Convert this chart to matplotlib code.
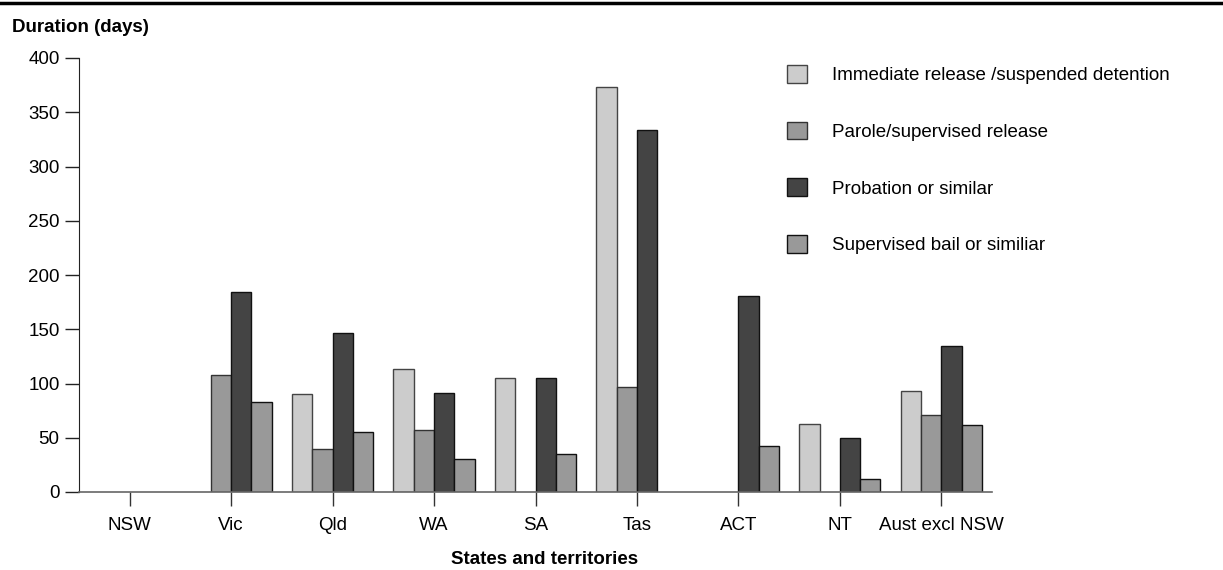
import numpy as np
import matplotlib
matplotlib.use("Agg")
import matplotlib.pyplot as plt
from matplotlib.lines import Line2D

plt.rcParams['font.family'] = ['Liberation Sans', 'DejaVu Sans']

categories = ["NSW", "Vic", "Qld", "WA", "SA", "Tas", "ACT", "NT", "Aust excl NSW"]
series_names = ["Immediate release /suspended detention", "Parole/supervised release",
                "Probation or similar", "Supervised bail or similiar"]
immediate = [np.nan, np.nan, 90, 113, 105, 373, np.nan, 63, 93]
parole = [np.nan, 108, 40, 57, np.nan, 97, np.nan, np.nan, 71]
probation = [np.nan, 184, 147, 91, 105, 334, 181, 50, 135]
bail = [np.nan, 83, 55, 30, 35, np.nan, 42, 12, 62]
y_ticks = [0, 50, 100, 150, 200, 250, 300, 350, 400]

series = [immediate, parole, probation, bail]
colors = ["#cccccc", "#999999", "#444444", "#999999"]
edges = ["#444444", "#333333", "#111111", "#111111"]

W, H = 1223, 570
fig = plt.figure(figsize=(W / 100, H / 100), dpi=100)
ax = fig.add_axes([79 / W, 1 - 492 / H, (992 - 79) / W, (492 - 58) / H])

x = np.arange(len(categories))
bw = 0.2
for i, (vals, c, e, name) in enumerate(zip(series, colors, edges, series_names)):
    ax.bar(x + (i - 1.5) * bw, vals, width=bw, color=c, edgecolor=e,
           linewidth=1.0, label=name, zorder=3)

ax.set_xlim(-0.5, len(categories) - 0.5)
ax.set_ylim(0, 400)
ax.set_yticks(y_ticks)
ax.set_xticks(x)
ax.set_xticklabels(categories)

for s in ["top", "right"]:
    ax.spines[s].set_visible(False)
ax.spines["left"].set_color("#222222")
ax.spines["bottom"].set_color("#666666")
ax.spines["bottom"].set_linewidth(1.2)
ax.spines["bottom"].set_zorder(4)

ax.tick_params(axis="y", length=10, width=1, color="#222222", labelsize=13.5, pad=4)
ax.tick_params(axis="x", length=10, width=1, color="#333333", labelsize=13.5, pad=8)

ax.set_xlabel("States and territories", fontsize=13.5, fontweight="bold", labelpad=7)
ax.xaxis.set_label_coords(0.51, -0.135)
fig.text(12 / W, 1 - 27 / H, "Duration (days)", fontsize=13.5, fontweight="bold",
         ha="left", va="center")

leg = ax.legend(loc="upper left", bbox_to_anchor=(787 / W, 1 - 65 / H),
                bbox_transform=fig.transFigure, frameon=False, fontsize=13.5,
                borderpad=0, borderaxespad=0, handlelength=1.07, handleheight=1.07,
                handletextpad=1.33, labelspacing=2.0)

# top rule
fig.add_artist(Line2D([0, 1], [1 - 3 / H, 1 - 3 / H], color="black", linewidth=2.5,
                      transform=fig.transFigure))

fig.savefig("out.png", dpi=100)
